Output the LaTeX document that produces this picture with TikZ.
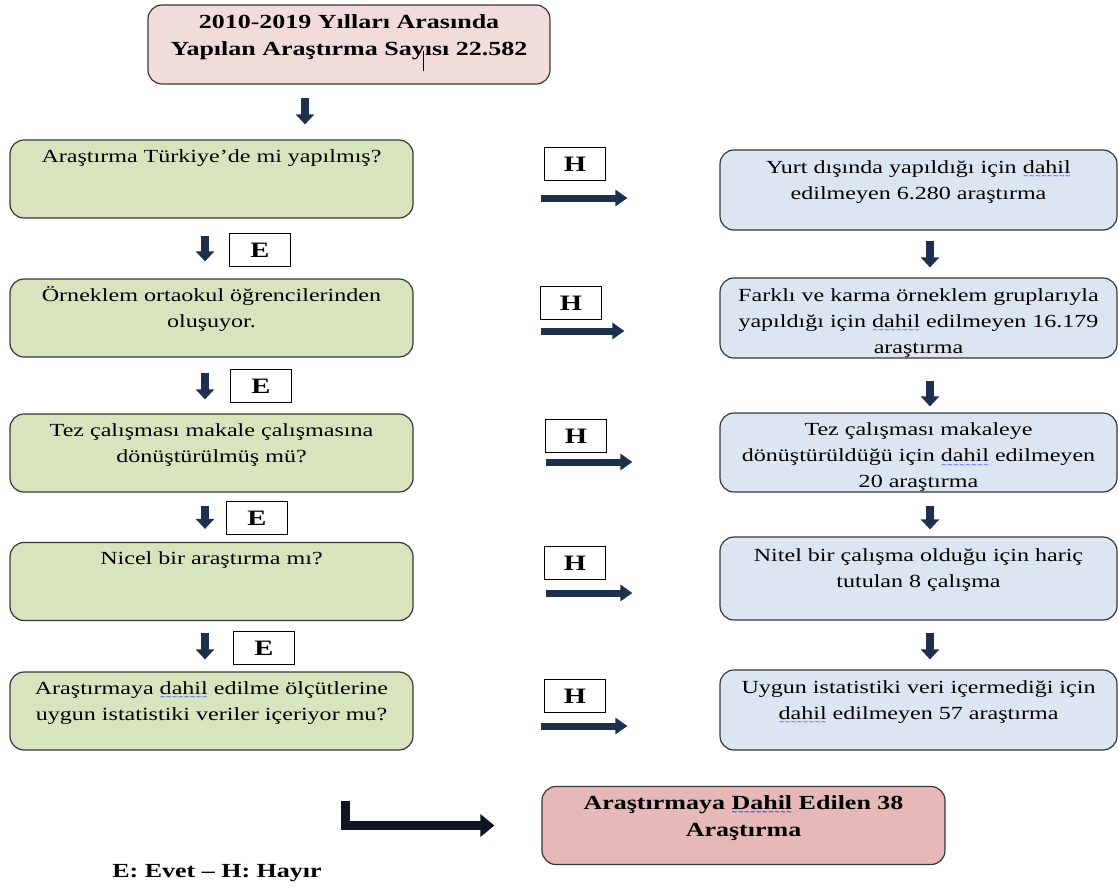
\documentclass[tikz,border=0pt]{standalone}
\usepackage{fontspec}
\setmainfont{Liberation Serif}[FakeStretch=1.3]
\newfontfamily\wavefont{DejaVu Sans}
\usepackage{xcolor}
\usetikzlibrary{arrows.meta}

\definecolor{qgreen}{RGB}{215,228,189}
\definecolor{rblue}{RGB}{220,230,242}
\definecolor{toppink}{RGB}{242,220,219}
\definecolor{endpink}{RGB}{230,185,184}
\definecolor{arrownavy}{RGB}{30,48,78}
\definecolor{boxline}{RGB}{55,55,55}

\newlength{\wavelen}
\newcommand{\spellwave}[1]{\settowidth{\wavelen}{#1}\leavevmode\rlap{#1}%
  \raisebox{-5.5pt}[0pt][0pt]{\color{blue!85}\makebox[\wavelen][l]{\xleaders\hbox{\wavefont\fontsize{7}{7}\selectfont\char"223C}\hfill}}}
\newcommand{\boxtext}[1]{\parbox[c][70pt][t]{390pt}{\centering\fontsize{18.5}{26}\selectfont\strut #1}}
\newcommand{\boldtext}[1]{\parbox[c][70pt][t]{390pt}{\centering\fontsize{20}{27}\selectfont\bfseries\strut #1}}

\tikzset{
  flowbox/.style={draw=boxline, line width=1.2pt, rounded corners=14pt, inner sep=0pt,
    minimum width=403pt, minimum height=78pt},
  qbox/.style={flowbox, fill=qgreen},
  rbox/.style={flowbox, fill=rblue, minimum width=397pt, minimum height=80pt},
  tag/.style={draw, line width=0.9pt, minimum width=61pt, minimum height=33pt, inner sep=0pt,
    font=\fontsize{22}{22}\selectfont\bfseries},
  varrow/.style={line width=8pt, draw=arrownavy, -{Triangle[width=18pt,length=10pt]}},
  harrow/.style={line width=7pt, draw=arrownavy, -{Triangle[width=16pt,length=12pt]}},
  larrow/.style={line width=9pt, draw={rgb,255:red,14;green,20;blue,32}, line join=miter,
    -{Triangle[width=22pt,length=14pt]}}
}

\begin{document}
\begin{tikzpicture}[x=1pt,y=-1pt]
\useasboundingbox (0,0) rectangle (1118,887);

% start
\node[flowbox, fill=toppink, minimum width=402pt, minimum height=79pt] (top) at (349,44.5)
  {\boldtext{2010-2019 Yılları Arasında\\ Yapılan Araştırma Sayısı 22.582}};
\draw[line width=1pt] (423,51) -- (423,71);

% questions
\node[qbox] (q1) at (211.5,179) {\boxtext{Araştırma Türkiye’de mi yapılmış?}};
\node[qbox] (q2) at (211.5,318) {\boxtext{Örneklem ortaokul öğrencilerinden\\ oluşuyor.}};
\node[qbox] (q3) at (211.5,453) {\boxtext{Tez çalışması makale çalışmasına\\ dönüştürülmüş mü?}};
\node[qbox] (q4) at (211.5,581.5) {\boxtext{Nicel bir araştırma mı?}};
\node[qbox] (q5) at (211.5,711) {\boxtext{Araştırmaya \spellwave{dahil} edilme ölçütlerine\\ uygun istatistiki veriler içeriyor mu?}};

% excluded
\node[rbox] (r1) at (918.5,190) {\boxtext{Yurt dışında yapıldığı için \spellwave{dahil}\\ edilmeyen 6.280 araştırma}};
\node[rbox] (r2) at (918.5,318) {\boxtext{Farklı ve karma örneklem gruplarıyla\\ yapıldığı için \spellwave{dahil} edilmeyen 16.179\\ araştırma}};
\node[rbox, minimum height=79pt] (r3) at (918.5,452.5) {\boxtext{Tez çalışması makaleye\\ dönüştürüldüğü için \spellwave{dahil} edilmeyen\\ 20 araştırma}};
\node[rbox, minimum height=83pt] (r4) at (918.5,578.5) {\boxtext{Nitel bir çalışma olduğu için hariç\\ tutulan 8 çalışma}};
\node[rbox] (r5) at (918.5,710) {\boxtext{Uygun istatistiki veri içermediği için\\ \spellwave{dahil} edilmeyen 57 araştırma}};

% result
\node[flowbox, fill=endpink] (final) at (743.5,825.5)
  {\boldtext{Araştırmaya \spellwave{Dahil} Edilen 38\\ Araştırma}};

% E / H
\node[tag] (e1) at (260,250) {E};
\node[tag] (e2) at (261,386) {E};
\node[tag] (e3) at (257,518) {E};
\node[tag] (e4) at (264,648) {E};
\node[tag] (h1) at (575,164) {H};
\node[tag] (h2) at (571,303) {H};
\node[tag] (h3) at (576,436) {H};
\node[tag] (h4) at (575,563) {H};
\node[tag] (h5) at (575,696) {H};

% down arrows
\draw[varrow, shorten <=13pt, shorten >=15pt] ([xshift=-44pt]top.south) -- ([xshift=-44pt]q1.north -| top.south);
\draw[varrow, shorten <=17pt, shorten >=17pt] ([xshift=-6.5pt]q1.south) -- ([xshift=-6.5pt]q2.north);
\draw[varrow, shorten <=15pt, shorten >=14pt] ([xshift=-6.5pt]q2.south) -- ([xshift=-6.5pt]q3.north);
\draw[varrow, shorten <=13pt, shorten >=13pt] ([xshift=-6.5pt]q3.south) -- ([xshift=-6.5pt]q4.north);
\draw[varrow, shorten <=12pt, shorten >=12pt] ([xshift=-6.5pt]q4.south) -- ([xshift=-6.5pt]q5.north);

\draw[varrow, shorten <=10pt, shorten >=10pt] ([xshift=11.5pt]r1.south) -- ([xshift=11.5pt]r2.north);
\draw[varrow, shorten <=22pt, shorten >=6pt] ([xshift=11.5pt]r2.south) -- ([xshift=11.5pt]r3.north);
\draw[varrow, shorten <=13pt, shorten >=7pt] ([xshift=11.5pt]r3.south) -- ([xshift=11.5pt]r4.north);
\draw[varrow, shorten <=12pt, shorten >=10pt] ([xshift=11.5pt]r4.south) -- ([xshift=11.5pt]r5.north);

% no arrows
\draw[harrow, shorten <=127pt, shorten >=92pt] (q1.east |- 0,198) -- (r1.west |- 0,198);
\draw[harrow, shorten <=127pt, shorten >=95pt] (q2.east |- 0,331) -- (r2.west |- 0,331);
\draw[harrow, shorten <=132pt, shorten >=87pt] (q3.east |- 0,462) -- (r3.west |- 0,462);
\draw[harrow, shorten <=132pt, shorten >=87pt] (q4.east |- 0,593) -- (r4.west |- 0,593);
\draw[harrow, shorten <=127pt, shorten >=92pt] (q5.east |- 0,726) -- (r5.west |- 0,726);

\coordinate (lstart) at (345,801);
\draw[larrow, shorten >=47pt] (lstart) |- (final.west);

\node[font=\fontsize{20}{20}\selectfont\bfseries] (legend) at (217,873) {E: Evet – H: Hayır};

\end{tikzpicture}
\end{document}
